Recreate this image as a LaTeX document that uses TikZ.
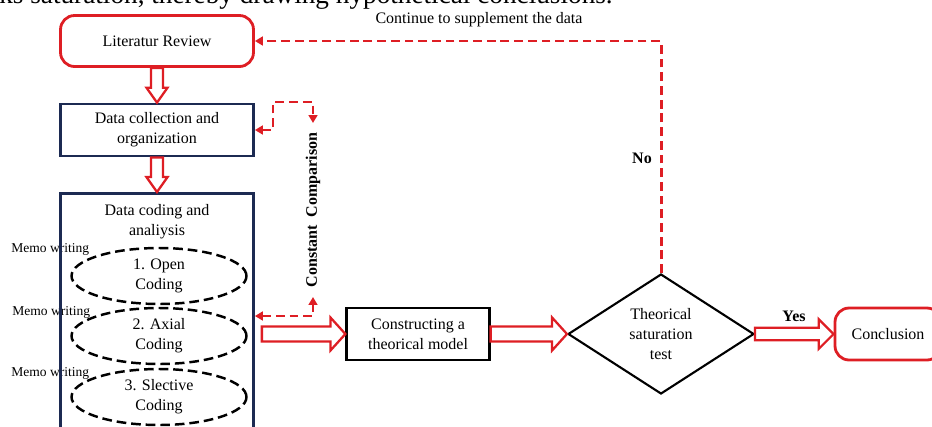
\documentclass[tikz,border=0pt]{standalone}
\usepackage{fontspec}
\setmainfont{Liberation Serif}
\usepackage{xcolor}
\usetikzlibrary{calc,shapes.geometric,arrows.meta}

\definecolor{flowred}{RGB}{222,30,36}
\definecolor{flownavy}{RGB}{28,42,82}

\tikzset{
  txt/.style={font=\fontsize{9.1}{11.4}\selectfont, align=center, inner sep=0pt},
  redbox/.style={txt, draw=flowred, line width=1.6pt, rounded corners=8pt},
  navybox/.style={txt, draw=flownavy, line width=1.6pt, minimum width=3.86cm},
  blackbox/.style={txt, draw=black, line width=1.3pt},
  codeoval/.style={txt, ellipse, draw=black, line width=1.4pt, dash pattern=on 5.5pt off 2.8pt,
    minimum width=3.5cm, minimum height=1.12cm},
  memo/.style={font=\fontsize{7.7}{9}\selectfont, anchor=west, inner sep=0pt},
  boldtxt/.style={font=\fontsize{9.1}{11}\selectfont\bfseries, inner sep=0pt},
  dashred/.style={draw=flowred, line width=1.7pt, dash pattern=on 5pt off 2.8pt,
    >={Triangle[length=4.5pt,width=5pt]}},
  hollowarr/.style={draw=flowred, line width=1.3pt, fill=white, line join=miter}
}

% hollow block arrow: body half width, head half width, from, to
\newcommand{\hollowarrow}[4]{%
  \coordinate (hb) at ($(#4)!8.5pt!(#3)$);
  \draw[hollowarr] ($(#3)!#1!90:(#4)$) -- ($(hb)!#1!-90:(#3)$) -- ($(hb)!#2!-90:(#3)$) -- (#4)
    -- ($(hb)!#2!90:(#3)$) -- ($(hb)!#1!90:(#3)$) -- ($(#3)!#1!-90:(#4)$) -- cycle;}

\begin{document}
\begin{tikzpicture}[x=0.02cm, y=-0.02cm]
  \useasboundingbox (0,0) rectangle (932,426);
  \clip (0,0) rectangle (932,426);

  % text of the page above
  \node[font=\fontsize{15.5}{18}\selectfont, anchor=base west, inner sep=0pt] (toptext) at (-1,4)
    {ks saturation, thereby drawing hypothetical conclusions.};

  % memo labels
  \node[memo] (memo1) at (11,249) {Memo writing};
  \node[memo] (memo2) at (12,312) {Memo writing};
  \node[memo] (memo3) at (11,373) {Memo writing};

  % left column
  \node[redbox, minimum width=3.86cm, minimum height=1.02cm] (lit) at (157,41) {Literatur Review};
  \node[navybox, minimum height=1.04cm] (coll) at (157,130) {Data collection and\\organization};
  \node[navybox, minimum height=4.96cm, anchor=north] (code) at (157,192) {};
  \node[txt] (codetitle) at (157,222) {Data coding and\\analiysis};

  % coding steps
  \node[codeoval] (open) at (159,276) {1. Open\\Coding};
  \node[codeoval] (axial) at (159,336) {2. Axial\\Coding};
  \node[codeoval] (selective) at (159,397) {3. Slective\\Coding};

  % right part
  \node[blackbox, minimum width=2.86cm, minimum height=1.04cm] (model) at (418,334) {Constructing a\\theorical model};
  \node[txt, diamond, draw=black, line width=1.2pt, aspect=1.55, minimum width=3.72cm, minimum height=2.4cm]
    (sat) at (661,334) {Theorical\\saturation\\test};
  \node[redbox, minimum width=2.12cm, minimum height=1.04cm] (concl) at (888,334) {Conclusion};

  % labels
  \node[txt] (contlbl) at (479,20) {Continue to supplement the data};
  \node[boldtxt] (nolbl) at (642,158) {No};
  \node[boldtxt] (yeslbl) at (794,316) {Yes};
  \node[boldtxt, rotate=90] (cclbl) at (313,210) {Constant\ \ Comparison};

  % dashed feedback
  \draw[dashred, ->] (sat.north) |- (lit.east);
  \coordinate (ccbend) at (273,102);
  \coordinate (cctop) at (313,123);
  \coordinate (ccturn) at (313,316);
  \coordinate (ccbot) at (313,297);
  \draw[dashred, <->] (coll.east) -| (ccbend) -| (cctop);
  \draw[dashred, <->] (ccturn -| code.east) -- (ccturn) -- (ccbot);

  % block arrows
  \hollowarrow{3.4pt}{6pt}{lit.south}{coll.north}
  \hollowarrow{3.4pt}{6pt}{coll.south}{code.north}
  \coordinate (codeout) at ($(code.east |- model.west)+(7,0)$);
  \hollowarrow{4.3pt}{9.4pt}{codeout}{model.west}
  \hollowarrow{4.3pt}{9.4pt}{model.east}{sat.west}
  \hollowarrow{3.6pt}{8.5pt}{sat.east}{concl.west}
\end{tikzpicture}
\end{document}
